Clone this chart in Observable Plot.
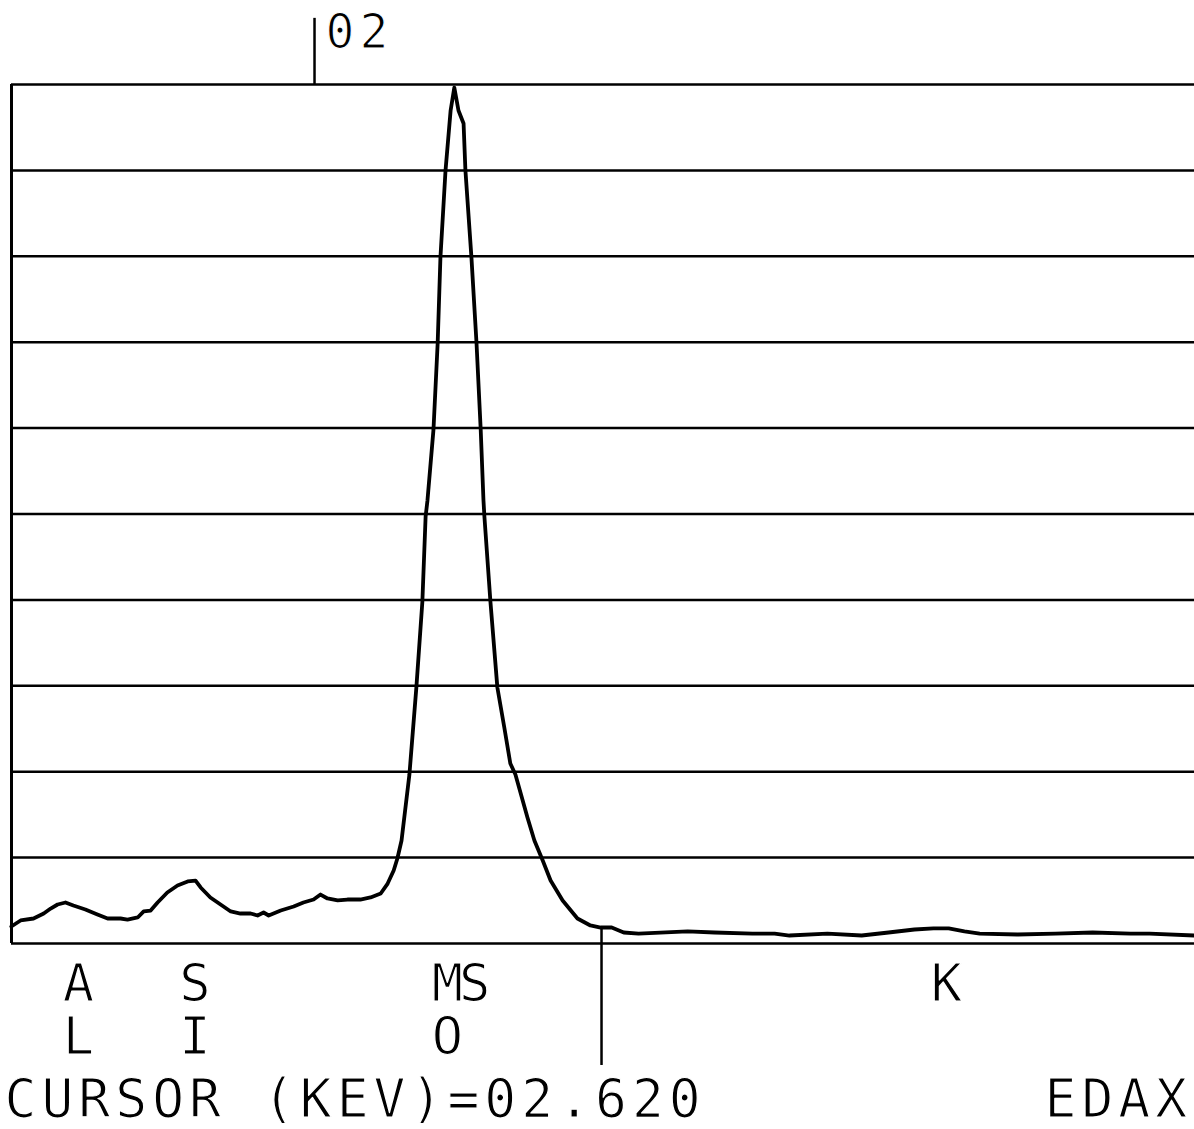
<!DOCTYPE html>
<html><head><meta charset="utf-8">
<script src="https://cdn.jsdelivr.net/npm/d3@7"></script>
<script src="https://cdn.jsdelivr.net/npm/@observablehq/plot@0.6"></script>
<style>
html,body{margin:0;padding:0;background:#fff;overflow:hidden;}
#chart svg text{white-space:pre;letter-spacing:5px;}
</style></head><body><div id="chart"></div>
<script>
// EDAX spectrum: energy (keV) vs. counts (% of full scale)
const energyKeV = [1.345,1.365,1.393,1.415,1.430,1.445,1.462,1.479,1.505,1.531,1.553,1.581,1.596,1.618,1.631,1.646,1.661,1.682,1.704,1.726,1.743,1.754,1.775,1.797,1.819,1.840,1.862,1.877,1.890,1.901,1.927,1.955,1.976,1.998,2.013,2.028,2.050,2.071,2.099,2.121,2.143,2.158,2.171,2.179,2.188,2.205,2.220,2.233,2.240,2.244,2.257,2.266,2.272,2.283,2.294,2.302,2.311,2.322,2.326,2.339,2.350,2.359,2.365,2.367,2.380,2.395,2.410,2.423,2.434,2.460,2.475,2.493,2.510,2.536,2.568,2.596,2.618,2.642,2.668,2.700,2.806,2.864,2.946,2.994,3.026,3.108,3.182,3.240,3.296,3.337,3.370,3.404,3.437,3.519,3.601,3.681,3.763,3.804,3.901];
const counts = [1.98,2.68,2.91,3.49,4.07,4.54,4.77,4.42,3.96,3.38,2.91,2.91,2.79,3.03,3.73,3.84,4.77,5.94,6.75,7.22,7.33,6.52,5.36,4.54,3.73,3.49,3.49,3.26,3.61,3.26,3.84,4.31,4.77,5.12,5.70,5.24,5.01,5.12,5.12,5.36,5.82,6.98,8.50,9.90,11.99,19.67,29.80,39.81,49.71,51.57,59.84,69.85,79.86,89.99,96.97,99.65,96.97,95.46,89.99,79.86,69.85,59.84,51.57,49.71,39.81,29.80,25.15,20.95,19.67,14.67,11.99,9.66,7.33,5.01,2.91,2.10,1.86,1.86,1.28,1.16,1.40,1.28,1.16,1.16,0.93,1.16,0.93,1.28,1.63,1.75,1.75,1.40,1.16,1.05,1.16,1.28,1.16,1.16,0.93];
const gridLevels = [0,10,20,30,40,50,60,70,80,90,100];
const elementSymbols = ["AL","SI","MO","S","K"];
const elementKeV = [1.456,1.708,2.253,2.312,3.331];
const cursorKeV = 2.62;
const cursorLabel = "CURSOR (KEV)=02.620";
const markerKeV = 2.0;
const markerLabel = "02";
const brandLabel = "EDAX";

const spectrum = energyKeV.map((e, i) => ({e, c: counts[i]}));
const labelRow1 = elementSymbols.map((s, i) => ({e: elementKeV[i], t: s[0]}));
const labelRow2 = elementSymbols.map((s, i) => ({e: elementKeV[i], t: s[1] || ""})).filter(d => d.t);
const cursorTop = counts[energyKeV.findIndex(e => e >= cursorKeV)];

const font = "DejaVu Sans Mono";
const thin = {stroke: "white", strokeWidth: 1.2, paintOrder: "fill"};
const chart = Plot.plot({
  width: 1194,
  height: 1129,
  marginLeft: 11,
  marginRight: 0,
  marginTop: 84,
  marginBottom: 186,
  style: {background: "white", fontFamily: font, overflow: "visible"},
  x: {domain: [1.3454, 3.901], axis: null},
  y: {domain: [0, 100], axis: null},
  marks: [
    Plot.ruleY(gridLevels, {stroke: "black", strokeWidth: 2.5}),
    Plot.ruleX([1.3454], {y1: 0, y2: 100, stroke: "black", strokeWidth: 3}),
    Plot.ruleX([markerKeV], {y1: 100, y2: 107.7, stroke: "black", strokeWidth: 2.5}),
    Plot.text([markerLabel], {x: markerKeV, y: 100, text: d => d, textAnchor: "start", lineAnchor: "bottom", dx: 11, dy: -37, fontSize: 48, fill: "black", ...thin}),
    Plot.ruleX([cursorKeV], {y1: -14.2, y2: cursorTop, stroke: "black", strokeWidth: 2.5}),
    Plot.line(spectrum, {x: "e", y: "c", stroke: "black", strokeWidth: 3.8, strokeLinejoin: "round"}),
    Plot.text(labelRow1, {x: "e", text: "t", frameAnchor: "bottom", textAnchor: "start", lineAnchor: "bottom", dy: 57, fontSize: 52, fill: "black", ...thin}),
    Plot.text(labelRow2, {x: "e", text: "t", frameAnchor: "bottom", textAnchor: "start", lineAnchor: "bottom", dy: 110, fontSize: 52, fill: "black", ...thin}),
    Plot.text([cursorLabel], {text: d => d, frameAnchor: "bottom-left", textAnchor: "start", lineAnchor: "bottom", dx: -7, dy: 173, fontSize: 53, fill: "black", ...thin}),
    Plot.text([brandLabel], {text: d => d, frameAnchor: "bottom-right", textAnchor: "start", lineAnchor: "bottom", dx: -150, dy: 173, fontSize: 53, fill: "black", ...thin})
  ]
});
document.getElementById("chart").appendChild(chart);
</script>
</body></html>
